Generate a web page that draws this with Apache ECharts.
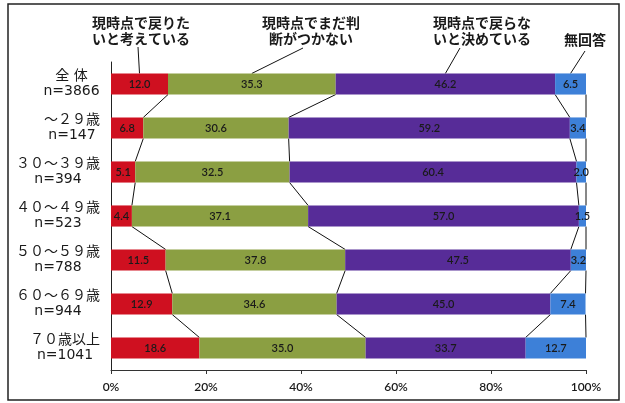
<!DOCTYPE html>
<html><head><meta charset="utf-8">
<script src="https://cdn.jsdelivr.net/npm/echarts@6/dist/echarts.min.js"></script>
<style>html,body{margin:0;padding:0;background:#fff}#c{width:625px;height:403px}</style>
</head><body><div id="c"></div>
<script>
const categories = ['全 体','～２９歳','３０～３９歳','４０～４９歳','５０～５９歳','６０～６９歳','７０歳以上'];
const sampleSizes = ['n=3866','n=147','n=394','n=523','n=788','n=944','n=1041'];
const seriesNames = ['現時点で戻りたいと考えている','現時点でまだ判断がつかない','現時点で戻らないと決めている','無回答'];
const legendLabels = ['現時点で戻りた\nいと考えている','現時点でまだ判\n断がつかない','現時点で戻らな\nいと決めている','無回答'];
const wantReturn = [12.0,6.8,5.1,4.4,11.5,12.9,18.6];
const undecided = [35.3,30.6,32.5,37.1,37.8,34.6,35.0];
const decidedNot = [46.2,59.2,60.4,57.0,47.5,45.0,33.7];
const noAnswer = [6.5,3.4,2.0,1.5,3.2,7.4,12.7];
const xTicks = [0,20,40,60,80,100];

const values = [wantReturn, undecided, decidedNot, noAnswer];
const colors = ['#cf1020','#8b9f42','#572c98','#3d80d8'];
const BAR_FRAC = 0.48;
const Y_FONT = '14px "DejaVu Sans", "Noto Sans CJK JP"';

// cumulative boundaries
const cum = values.map((_, k) => categories.map((_, i) => {
  let s = 0; for (let j = 0; j <= k; j++) s += values[j][i]; return s;
}));
const seriesLineData = [];
cum.forEach(arr => { for (let i = 0; i < arr.length - 1; i++) seriesLineData.push([arr[i], i, arr[i+1], i+1]); });

// y-axis labels: two centered lines per category, block right-aligned at the axis
const ctx = document.createElement('canvas').getContext('2d');
ctx.font = Y_FONT;
const rich = {};
categories.forEach((c, i) => {
  const w = Math.ceil(Math.max(ctx.measureText(c).width, ctx.measureText(sampleSizes[i]).width));
  const base = {fontSize: 14, lineHeight: 15, width: w, align: 'center', color: '#1a1a1a',
    fontFamily: '"DejaVu Sans", "Noto Sans CJK JP"'};
  rich['a' + i] = Object.assign({}, base);
  rich['b' + i] = Object.assign({}, base);
});

const chart = echarts.init(document.getElementById('c'), null, {renderer:'canvas'});
const barSeries = values.map((v, k) => ({
  name: seriesNames[k], type: 'bar', stack: 'total', data: v, barWidth: (BAR_FRAC*100)+'%',
  itemStyle: {color: colors[k]},
  label: {show: true, position: 'inside', formatter: p => p.value.toFixed(1), fontSize: 11,
          color: '#1a1a1a', fontFamily: 'Lato, sans-serif', fontWeight: 600},
  emphasis: {disabled: true}, z: 2
}));

chart.setOption({
  animation: false,
  grid: {left: 111, right: 39, top: 62, bottom: 33, outerBoundsMode: 'none'},
  xAxis: {type: 'value', min: 0, max: 100, interval: 20,
    axisLine: {show: true, lineStyle: {color: '#333', width: 1}},
    axisTick: {show: true, length: 4, lineStyle: {color: '#333'}},
    splitLine: {show: false},
    axisLabel: {formatter: v => xTicks.includes(v) ? v + '%' : '', fontSize: 12, color: '#1a1a1a', margin: 11,
      fontFamily: 'Lato, sans-serif', fontWeight: 600}
  },
  yAxis: {type: 'category', data: categories, inverse: true,
    axisLine: {show: true, lineStyle: {color: '#222', width: 1}},
    axisTick: {show: false},
    axisLabel: {margin: 11, align: 'right',
      formatter: (v, i) => '{a' + i + '|' + v + '}\n{b' + i + '|' + sampleSizes[i] + '}',
      rich: rich
    }
  },
  series: barSeries.concat([{
    type: 'custom', name: 'seriesLines', data: seriesLineData,
    encode: {x: [0, 2], y: [1, 3]}, silent: true, z: 1,
    renderItem: (params, api) => {
      const p1 = api.coord([api.value(0), api.value(1)]);
      const p2 = api.coord([api.value(2), api.value(3)]);
      const half = api.size([0, 1])[1] * BAR_FRAC / 2;
      return {type: 'line', shape: {x1: p1[0], y1: p1[1] + half, x2: p2[0], y2: p2[1] - half},
        style: {stroke: '#111', lineWidth: 1}};
    }
  }])
});

// callout labels at top, pointing to first bar's segment middles
const labelPos = [[141, 31, 138, 47], [311, 31, 303, 48], [482, 31, 460, 48], [585, 40, 585, 51]];
const c0 = chart.convertToPixel({gridIndex: 0}, [0, 0]);
const c1 = chart.convertToPixel({gridIndex: 0}, [0, 1]);
const barHalf = Math.abs(c1[1] - c0[1]) * BAR_FRAC / 2;
const graphics = [{type: 'rect', shape: {x: 8, y: 4, width: 611, height: 396},
  style: {fill: 'none', stroke: '#222', lineWidth: 1.5}, silent: true}];
values.forEach((v, k) => {
  const mid = (k === 0 ? 0 : cum[k-1][0]) + v[0] / 2;
  const pt = chart.convertToPixel({gridIndex: 0}, [mid, 0]);
  const lp = labelPos[k];
  graphics.push({type: 'text', x: lp[0], y: lp[1], silent: true,
    style: {text: legendLabels[k], align: 'center', verticalAlign: 'middle', lineHeight: 16,
      font: 'bold 14px "Noto Sans CJK JP"', fill: '#1a1a1a'}});
  graphics.push({type: 'line', silent: true, shape: {x1: lp[2], y1: lp[3], x2: pt[0], y2: pt[1] - barHalf},
    style: {stroke: '#111', lineWidth: 1}});
});
chart.setOption({graphic: graphics});
</script></body></html>
